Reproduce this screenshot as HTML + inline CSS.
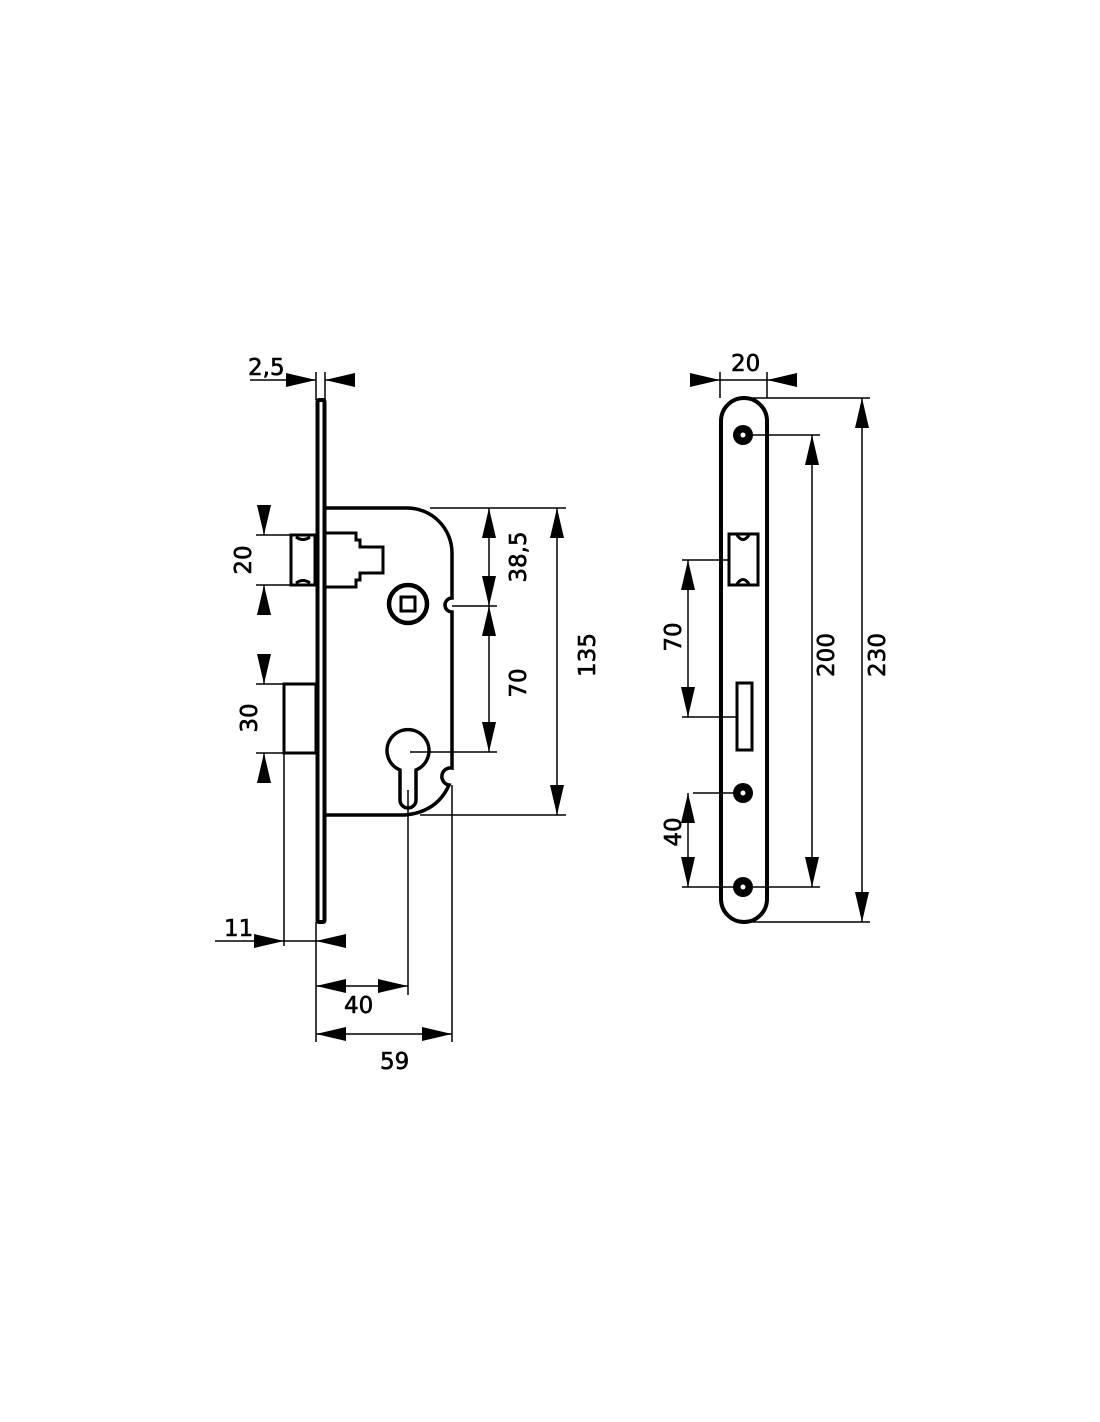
<!DOCTYPE html>
<html><head><meta charset="utf-8"><style>html,body{margin:0;padding:0;background:#fff}svg{display:block}text{font-family:"DejaVu Sans","Liberation Sans",sans-serif;font-size:23px;fill:#000;stroke:#000;stroke-width:0.6}</style></head>
<body>
<svg width="1100" height="1422" viewBox="0 0 1100 1422" xmlns="http://www.w3.org/2000/svg">
<defs>
<marker id="a" viewBox="0 0 30 14" refX="30" refY="7" markerWidth="30" markerHeight="14" markerUnits="userSpaceOnUse" orient="auto"><path d="M0,0 L30,7 L0,14 Z" fill="#000"/></marker>
</defs>
<g fill="none" stroke="#000">
<rect x="317.5" y="400" width="7" height="522" rx="1.5" stroke-width="4"/>
<path d="M325,508 H407 A45,45 0 0 1 452,553 V598 A7,7 0 0 0 452,612 V768 A7,7 0 0 0 449,785 Q437,812 405,815 H325" stroke-width="3.5"/>
<path d="M325,533 H356 V540 H360 V547 H383 V573 H360 V580 H356 V587 H325" stroke-width="3"/>
<rect x="291" y="535" width="24" height="50" stroke-width="3"/>
<path d="M296,537 Q303,542 310,537 M296,583 Q303,578 310,583" stroke-width="3"/>
<rect x="284" y="684" width="32" height="69" stroke-width="3"/>
<circle cx="408" cy="604" r="19" stroke-width="4.5"/>
<rect x="401" y="597" width="14" height="14" stroke-width="3"/>
<path d="M400,770 A21,21 0 1 1 416,770 V800 A8,8 0 0 1 400,800 Z" stroke-width="3.5"/>
<g stroke-width="1.5">
<line x1="316" y1="372" x2="316" y2="400"/><line x1="325" y1="372" x2="325" y2="400"/>
<line x1="250" y1="380" x2="316" y2="380" marker-end="url(#a)"/><line x1="355" y1="380" x2="325" y2="380" marker-end="url(#a)"/>
<line x1="256" y1="535" x2="290" y2="535"/><line x1="256" y1="585" x2="290" y2="585"/>
<line x1="264" y1="505" x2="264" y2="535" marker-end="url(#a)"/><line x1="264" y1="615" x2="264" y2="585" marker-end="url(#a)"/>
<line x1="256" y1="684" x2="284" y2="684"/><line x1="256" y1="753" x2="284" y2="753"/>
<line x1="264" y1="654" x2="264" y2="684" marker-end="url(#a)"/><line x1="264" y1="783" x2="264" y2="753" marker-end="url(#a)"/>
<line x1="430" y1="508" x2="566" y2="508"/><line x1="452" y1="606" x2="497" y2="606"/>
<line x1="410" y1="752" x2="497" y2="752"/><line x1="420" y1="815" x2="566" y2="815"/>
<line x1="489" y1="557" x2="489" y2="508" marker-end="url(#a)"/><line x1="489" y1="557" x2="489" y2="606" marker-end="url(#a)"/>
<line x1="489" y1="680" x2="489" y2="606" marker-end="url(#a)"/><line x1="489" y1="680" x2="489" y2="752" marker-end="url(#a)"/>
<line x1="557" y1="660" x2="557" y2="508" marker-end="url(#a)"/><line x1="557" y1="660" x2="557" y2="815" marker-end="url(#a)"/>
<line x1="284" y1="753" x2="284" y2="946"/><line x1="316" y1="922" x2="316" y2="1042"/>
<line x1="215" y1="941" x2="284" y2="941" marker-end="url(#a)"/><line x1="345" y1="941" x2="316" y2="941" marker-end="url(#a)"/>
<line x1="284" y1="941" x2="316" y2="941"/>
<line x1="408" y1="790" x2="408" y2="995"/><line x1="452" y1="785" x2="452" y2="1042"/>
<line x1="362" y1="986" x2="316" y2="986" marker-end="url(#a)"/><line x1="362" y1="986" x2="408" y2="986" marker-end="url(#a)"/>
<line x1="384" y1="1034" x2="316" y2="1034" marker-end="url(#a)"/><line x1="384" y1="1034" x2="452" y2="1034" marker-end="url(#a)"/>
</g>
<rect x="721" y="398" width="46" height="524" rx="23" stroke-width="4"/>
<rect x="729" y="534" width="29" height="51" stroke-width="3"/>
<path d="M737,535 Q743,544 749,535 M737,584 Q743,575 749,584" stroke-width="3"/>
<rect x="737" y="683" width="15" height="67" stroke-width="3"/>
<g stroke-width="1.5">
<line x1="720" y1="372" x2="720" y2="398"/><line x1="767" y1="372" x2="767" y2="398"/>
<line x1="690" y1="380" x2="720" y2="380" marker-end="url(#a)"/><line x1="797" y1="380" x2="767" y2="380" marker-end="url(#a)"/>
<line x1="720" y1="380" x2="767" y2="380"/>
<line x1="745" y1="398" x2="870" y2="398"/><line x1="745" y1="922" x2="870" y2="922"/>
<line x1="752" y1="435" x2="820" y2="435"/><line x1="752" y1="887" x2="820" y2="887"/>
<line x1="862" y1="660" x2="862" y2="398" marker-end="url(#a)"/><line x1="862" y1="660" x2="862" y2="922" marker-end="url(#a)"/>
<line x1="812" y1="660" x2="812" y2="435" marker-end="url(#a)"/><line x1="812" y1="660" x2="812" y2="887" marker-end="url(#a)"/>
<line x1="682" y1="560" x2="729" y2="560"/><line x1="682" y1="717" x2="737" y2="717"/>
<line x1="688" y1="640" x2="688" y2="560" marker-end="url(#a)"/><line x1="688" y1="640" x2="688" y2="717" marker-end="url(#a)"/>
<line x1="693" y1="793" x2="735" y2="793"/><line x1="682" y1="887" x2="735" y2="887"/>
<line x1="688" y1="840" x2="688" y2="793" marker-end="url(#a)"/><line x1="688" y1="840" x2="688" y2="887" marker-end="url(#a)"/>
</g>
</g>
<g fill="#000">
<circle cx="743" cy="435" r="10"/><circle cx="743" cy="793" r="10"/><circle cx="743" cy="887" r="10"/>
</g>
<g fill="#fff"><circle cx="743" cy="435" r="2.5"/><circle cx="743" cy="793" r="2.5"/><circle cx="743" cy="887" r="2.5"/></g>
<text x="248" y="375">2,5</text>
<text x="731" y="371">20</text>
<text x="224" y="936">11</text>
<text x="344" y="1013">40</text>
<text x="380" y="1069">59</text>
<g>
<text transform="translate(251,560) rotate(-90)" text-anchor="middle">20</text>
<text transform="translate(257,718) rotate(-90)" text-anchor="middle">30</text>
<text transform="translate(526,557) rotate(-90)" text-anchor="middle">38,5</text>
<text transform="translate(526,683) rotate(-90)" text-anchor="middle">70</text>
<text transform="translate(595,655) rotate(-90)" text-anchor="middle">135</text>
<text transform="translate(681,637) rotate(-90)" text-anchor="middle">70</text>
<text transform="translate(681,832) rotate(-90)" text-anchor="middle">40</text>
<text transform="translate(834,655) rotate(-90)" text-anchor="middle">200</text>
<text transform="translate(885,655) rotate(-90)" text-anchor="middle">230</text>
</g>
</svg>
</body></html>
